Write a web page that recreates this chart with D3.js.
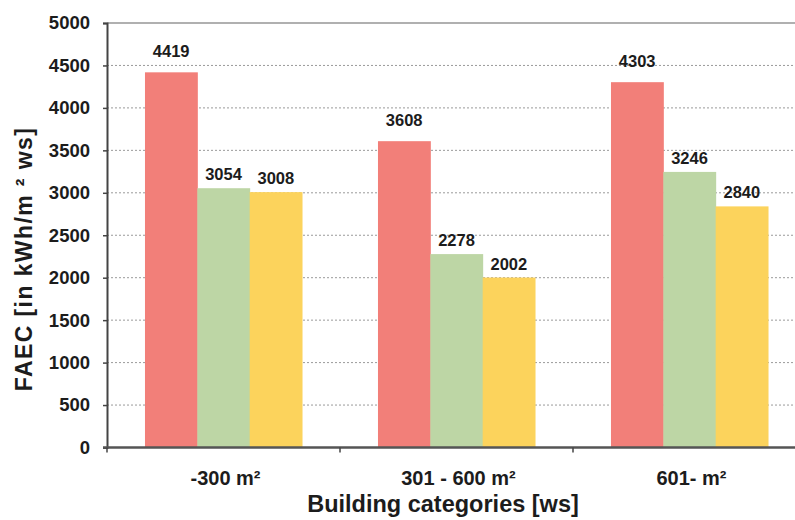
<!DOCTYPE html>
<html>
<head>
<meta charset="utf-8">
<script src="https://cdn.jsdelivr.net/npm/d3@7"></script>
<style>
  body { margin: 0; background: #fff; }
  text { font-family: "Liberation Sans", Arial, sans-serif; font-weight: bold; fill: #1c1c1c; }
</style>
</head>
<body>
<div id="chart"></div>
<script>
const categories = ["-300 m²", "301 - 600 m²", "601- m²"];
const seriesNames = ["a", "b", "c"];
const seriesColors = ["#f27f79", "#bdd6a5", "#fcd35c"];
const valuesA = [4419, 3608, 4303];
const valuesB = [3054, 2278, 3246];
const valuesC = [3008, 2002, 2840];
const yTicks = [0, 500, 1000, 1500, 2000, 2500, 3000, 3500, 4000, 4500, 5000];

const width = 795, height = 520;
const plot = { left: 107, right: 806, top: 23, bottom: 447.5 };

const svg = d3.select("#chart").append("svg")
  .attr("width", width)
  .attr("height", height);

const x = d3.scaleBand()
  .domain(categories)
  .range([plot.left, plot.right])
  .paddingInner(0.326)
  .paddingOuter(0.163);

const xInner = d3.scaleBand()
  .domain(seriesNames)
  .range([0, x.bandwidth()]);

const y = d3.scaleLinear()
  .domain([0, 5000])
  .range([plot.bottom, plot.top]);

const rows = categories.map((c, i) => ({
  category: c,
  values: [valuesA[i], valuesB[i], valuesC[i]]
}));

// grid lines
svg.append("g")
  .selectAll("line")
  .data(yTicks.filter(d => d > 0 && d < 5000))
  .enter().append("line")
  .attr("x1", plot.left)
  .attr("x2", plot.right)
  .attr("y1", d => y(d))
  .attr("y2", d => y(d))
  .attr("stroke", "#9a9a9a")
  .attr("stroke-width", 1)
  .attr("stroke-dasharray", "2,2");

// top border
svg.append("line")
  .attr("x1", plot.left).attr("x2", plot.right)
  .attr("y1", y(5000)).attr("y2", y(5000))
  .attr("stroke", "#b0b0b0")
  .attr("stroke-width", 2);

// bars
const groups = svg.selectAll(".group")
  .data(rows)
  .enter().append("g")
  .attr("class", "group")
  .attr("transform", d => `translate(${x(d.category)},0)`);

const cells = d => d.values.map((v, i) => ({ key: seriesNames[i], i: i, value: v }));

groups.selectAll("rect")
  .data(cells)
  .enter().append("rect")
  .attr("x", d => xInner(d.key))
  .attr("y", d => y(d.value))
  .attr("width", xInner.bandwidth() + 0.5)
  .attr("height", d => y(0) - y(d.value))
  .attr("fill", d => seriesColors[d.i]);

groups.selectAll(".val")
  .data(cells)
  .enter().append("text")
  .attr("class", "val")
  .attr("x", d => xInner(d.key) + xInner.bandwidth() / 2)
  .attr("y", d => y(d.value) - (d.i === 0 ? 15 : 8))
  .attr("text-anchor", "middle")
  .style("font-size", "16.5px")
  .text(d => d.value);

// y axis
const yAxis = svg.append("g")
  .attr("transform", `translate(${plot.left},0)`)
  .call(d3.axisLeft(y).tickValues(yTicks).tickFormat(d3.format("d")).tickSize(4).tickPadding(13));
yAxis.select(".domain").attr("stroke", "#444").attr("stroke-width", 2);
yAxis.selectAll(".tick line").attr("stroke", "#444").attr("stroke-width", 1.5);
yAxis.selectAll(".tick text")
  .style("font-size", "18.5px")
  .style("font-family", "'Liberation Sans', Arial, sans-serif")
  .style("font-weight", "bold")
  .attr("fill", "#1c1c1c");

// x axis
svg.append("line")
  .attr("x1", plot.left - 4).attr("x2", plot.right)
  .attr("y1", y(0)).attr("y2", y(0))
  .attr("stroke", "#555")
  .attr("stroke-width", 2.5);

const bounds = categories.map(c => x(c) - x.step() * x.paddingOuter()).concat([plot.right]);
svg.append("g")
  .selectAll("line")
  .data(bounds)
  .enter().append("line")
  .attr("x1", d => d).attr("x2", d => d)
  .attr("y1", y(0)).attr("y2", y(0) + 5)
  .attr("stroke", "#444")
  .attr("stroke-width", 1.5);

svg.append("g")
  .selectAll("text")
  .data(categories)
  .enter().append("text")
  .attr("x", d => x(d) + x.bandwidth() / 2 + 2)
  .attr("y", 485)
  .attr("text-anchor", "middle")
  .style("font-size", "20px")
  .text(d => d);

// axis titles
svg.append("text")
  .attr("x", 443)
  .attr("y", 512)
  .attr("text-anchor", "middle")
  .style("font-size", "23.5px")
  .text("Building categories [ws]");

svg.append("text")
  .attr("transform", "translate(32,259) rotate(-90)")
  .attr("text-anchor", "middle")
  .style("font-size", "23px")
  .style("letter-spacing", "1.4px")
  .text("FAEC [in kWh/m ² ws]");
</script>
</body>
</html>
